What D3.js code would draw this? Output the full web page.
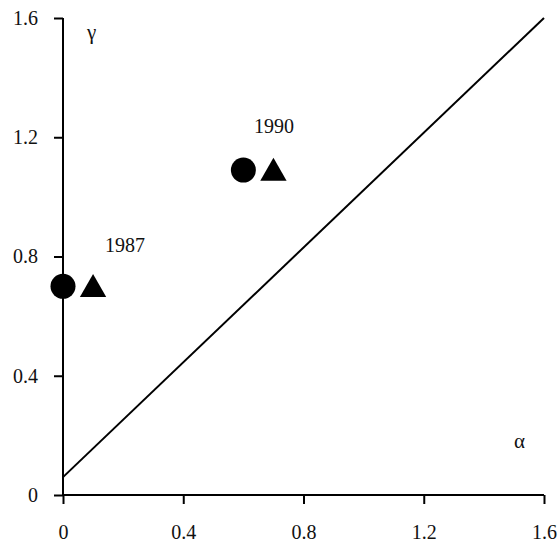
<!DOCTYPE html>
<html>
<head>
<meta charset="utf-8">
<script src="https://cdn.jsdelivr.net/npm/d3@7"></script>
<style>
  body { margin: 0; background: #fff; }
  svg text { font-family: "Liberation Serif", "Times New Roman", serif; fill: #111; }
</style>
</head>
<body>
<div class="main"></div>
<script>
// data
const xTicks = [0, 0.4, 0.8, 1.2, 1.6];
const yTicks = [0, 0.4, 0.8, 1.2, 1.6];
const years = ["1987", "1990"];
const circleAlpha = [0, 0.6];
const triangleAlpha = [0.1, 0.7];
const gammaVals = [0.7, 1.09];
const yearAlpha = [0.14, 0.635];
const yearGamma = [0.815, 1.215];
const lineAlpha = [0, 1.6];
const lineGamma = [0.06, 1.6];

//scaling
const w = 558, h = 544;
const padLeft = 63, padRight = 544, padTop = 18, padBottom = 495;

const x = d3.scaleLinear().domain([0, 1.6]).range([padLeft, padRight]);
const y = d3.scaleLinear().domain([0, 1.6]).range([padBottom, padTop]);

const svg = d3.select(".main")
  .append("svg")
  .attr("width", w)
  .attr("height", h);

const fmt = d => d === 0 ? "0" : d3.format(".1f")(d);

// y axis
const gy = svg.append("g")
  .attr("transform", "translate(" + padLeft + ",0)")
  .call(d3.axisLeft(y).tickValues(yTicks).tickSize(9).tickPadding(16).tickFormat(fmt));

// x axis
const gx = svg.append("g")
  .attr("transform", "translate(0," + padBottom + ")")
  .call(d3.axisBottom(x).tickValues(xTicks).tickSize(9).tickPadding(21).tickFormat(fmt));

[gx, gy].forEach(g => {
  g.attr("font-family", null).attr("font-size", null);
  g.select(".domain").remove();
  g.selectAll("line").attr("stroke", "#000").attr("stroke-width", 2);
  g.selectAll("text").style("font-size", "20px");
});

// axis lines
svg.append("line")
  .attr("x1", padLeft).attr("x2", padLeft).attr("y1", y(1.6)).attr("y2", padBottom)
  .attr("stroke", "#000").attr("stroke-width", 2);
svg.append("line")
  .attr("x1", padLeft).attr("x2", padRight).attr("y1", padBottom).attr("y2", padBottom)
  .attr("stroke", "#000").attr("stroke-width", 2);

// diagonal line
svg.append("line")
  .attr("x1", x(lineAlpha[0])).attr("y1", y(lineGamma[0]))
  .attr("x2", x(lineAlpha[1])).attr("y2", y(lineGamma[1]))
  .attr("stroke", "#000").attr("stroke-width", 2);

// circles
svg.selectAll("circle.pt")
  .data(circleAlpha)
  .enter()
  .append("circle")
  .attr("class", "pt")
  .attr("cx", d => x(d))
  .attr("cy", (d, i) => y(gammaVals[i]))
  .attr("r", 12.5)
  .attr("fill", "#000");

// triangles
const tri = d3.symbol().type(d3.symbolTriangle).size(300);
svg.selectAll("path.tri")
  .data(triangleAlpha)
  .enter()
  .append("path")
  .attr("class", "tri")
  .attr("d", tri)
  .attr("transform", (d, i) => "translate(" + x(d) + "," + (y(gammaVals[i]) + 3) + ")")
  .attr("fill", "#000");

// year labels
svg.selectAll("text.yr")
  .data(years)
  .enter()
  .append("text")
  .attr("class", "yr")
  .attr("x", (d, i) => x(yearAlpha[i]))
  .attr("y", (d, i) => y(yearGamma[i]))
  .style("font-size", "20px")
  .text(d => d);

// axis letters
svg.append("text").attr("x", 87).attr("y", 39).style("font-size", "21px").text("γ");
svg.append("text").attr("x", 514).attr("y", 448).style("font-size", "21px").text("α");
</script>
</body>
</html>
